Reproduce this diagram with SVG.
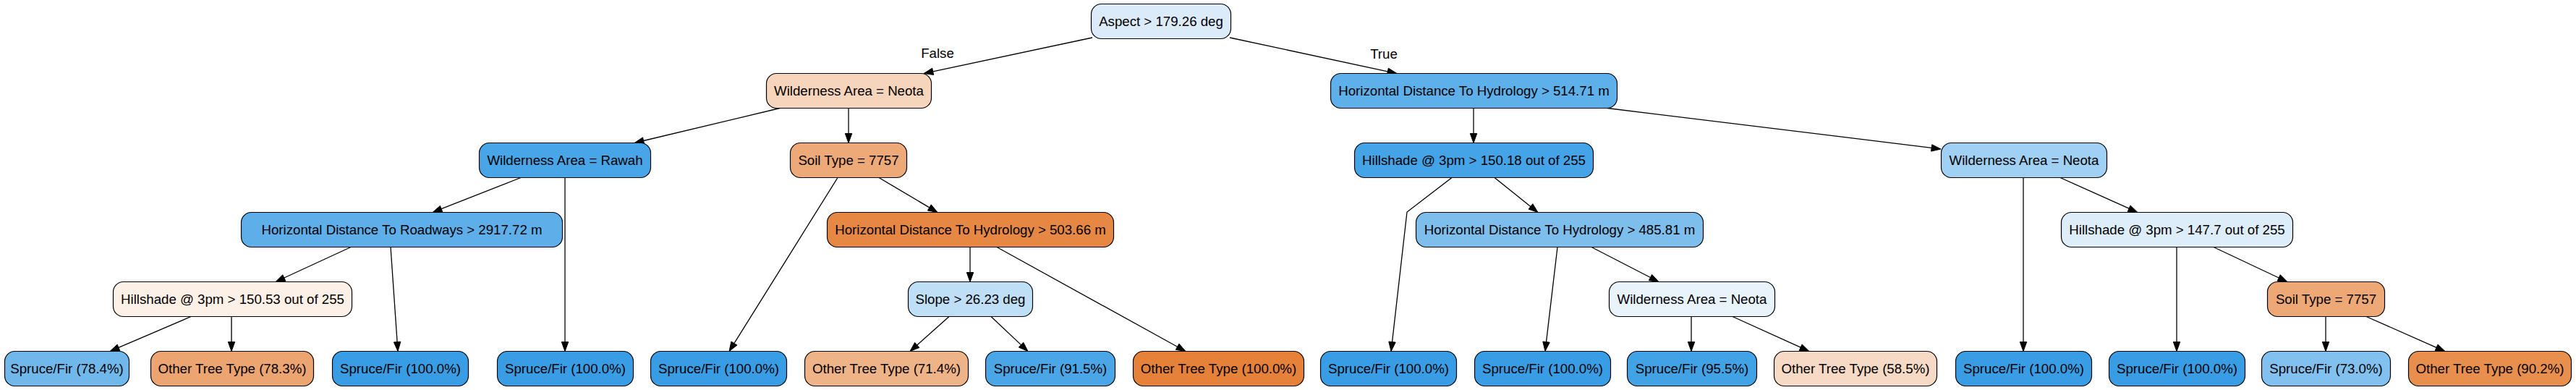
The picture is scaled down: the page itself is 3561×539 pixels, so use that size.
<svg xmlns="http://www.w3.org/2000/svg" width="3561" height="539" viewBox="0 0 3561 539">
<style>
.n rect{stroke:#000;stroke-width:1.2}
text{font-family:"Liberation Sans",Arial,Helvetica,sans-serif;font-size:18.67px;text-anchor:middle;fill:#000}
.e path{stroke:#000;stroke-width:1.3;fill:none}
.e polygon{fill:#000;stroke:#000;stroke-width:1}
</style>
<rect width="3561" height="539" fill="#fff"/>
<g id="connectors" class="e">
<path d="M1510,52 L1289.7,98.8"/><polygon points="1277,101.5 1288.7,94.2 1290.7,103.4"/>
<path d="M1700,52 L1918.3,98.8"/><polygon points="1931,101.5 1917.3,103.4 1919.3,94.2"/>
<path d="M1078,149.5 L889.6,194.5"/><polygon points="877,197.5 888.5,189.9 890.7,199.1"/>
<path d="M1173,149.5 L1173,184.5"/><polygon points="1173,197.5 1168.3,184.5 1177.7,184.5"/>
<path d="M2037,149.5 L2037,184.5"/><polygon points="2037,197.5 2032.3,184.5 2041.7,184.5"/>
<path d="M2222,149.5 L2670.1,204.4"/><polygon points="2683,206 2669.5,209.1 2670.7,199.8"/>
<path d="M720,245.5 L610.1,288.7"/><polygon points="598,293.5 608.4,284.4 611.8,293.1"/>
<path d="M781,245.5 L781,472.5"/><polygon points="781,485.5 776.3,472.5 785.7,472.5"/>
<path d="M1158,245.5 L1014.9,474.5"/><polygon points="1008,485.5 1010.9,472.0 1018.9,477.0"/>
<path d="M1215,245.5 L1284.8,286.9"/><polygon points="1296,293.5 1282.4,290.9 1287.2,282.8"/>
<path d="M2007,245.5 L1945,293 L1924.5,472.6"/><polygon points="1923,485.5 1919.8,472.1 1929.2,473.1"/>
<path d="M2066,245.5 L2115.9,285.4"/><polygon points="2126,293.5 2113.0,289.1 2118.8,281.7"/>
<path d="M2797,245.5 L2797,472.5"/><polygon points="2797,485.5 2792.3,472.5 2801.7,472.5"/>
<path d="M2848,245.5 L2943.1,288.2"/><polygon points="2955,293.5 2941.2,292.5 2945.0,283.9"/>
<path d="M485,341.5 L392.8,384.0"/><polygon points="381,389.5 390.8,379.8 394.8,388.3"/>
<path d="M540,341.5 L549.1,472.5"/><polygon points="550,485.5 544.4,472.9 553.8,472.2"/>
<path d="M1341,341.5 L1341,376.5"/><polygon points="1341,389.5 1336.3,376.5 1345.7,376.5"/>
<path d="M1378,341.5 L1627.6,479.2"/><polygon points="1639,485.5 1625.3,483.3 1629.9,475.1"/>
<path d="M2153,341.5 L2137.5,472.6"/><polygon points="2136,485.5 2132.8,472.0 2142.2,473.2"/>
<path d="M2200,341.5 L2281.5,383.5"/><polygon points="2293,389.5 2279.3,387.7 2283.6,379.4"/>
<path d="M3009,341.5 L3009,472.5"/><polygon points="3009,485.5 3004.3,472.5 3013.7,472.5"/>
<path d="M3060,341.5 L3150.2,384.0"/><polygon points="3162,389.5 3148.2,388.2 3152.2,379.7"/>
<path d="M264,437.5 L163.9,480.4"/><polygon points="152,485.5 162.1,476.1 165.8,484.7"/>
<path d="M320,437.5 L320,472.5"/><polygon points="320,485.5 315.3,472.5 324.7,472.5"/>
<path d="M1312,437.5 L1267.7,476.9"/><polygon points="1258,485.5 1264.6,473.4 1270.8,480.4"/>
<path d="M1370,437.5 L1411.5,476.6"/><polygon points="1421,485.5 1408.3,480.0 1414.7,473.2"/>
<path d="M2338,437.5 L2338,472.5"/><polygon points="2338,485.5 2333.3,472.5 2342.7,472.5"/>
<path d="M2395,437.5 L2489.2,480.1"/><polygon points="2501,485.5 2487.2,484.4 2491.1,475.9"/>
<path d="M3215,437.5 L3215,472.5"/><polygon points="3215,485.5 3210.3,472.5 3219.7,472.5"/>
<path d="M3271,437.5 L3368.1,480.3"/><polygon points="3380,485.5 3366.2,484.6 3370.0,476.0"/>
<text x="1296" y="80">False</text>
<text x="1913" y="81">True</text>
</g>
<g id="n0" class="n"><rect x="1508.5" y="5.5" width="193" height="48" rx="14" fill="#dcebf9"/><text x="1605" y="36">Aspect &gt; 179.26 deg</text></g>
<g id="n1" class="n"><rect x="1059.5" y="101.5" width="228" height="48" rx="14" fill="#f6d5bc"/><text x="1173.5" y="132">Wilderness Area = Neota</text></g>
<g id="n2" class="n"><rect x="1839.5" y="101.5" width="396" height="48" rx="14" fill="#5eb0ea"/><text x="2037.5" y="132">Horizontal Distance To Hydrology &gt; 514.71 m</text></g>
<g id="n3" class="n"><rect x="662.5" y="197.5" width="237" height="48" rx="14" fill="#48a5e7"/><text x="781" y="228">Wilderness Area = Rawah</text></g>
<g id="n4" class="n"><rect x="1092.5" y="197.5" width="161" height="48" rx="14" fill="#eda978"/><text x="1173" y="228">Soil Type = 7757</text></g>
<g id="n5" class="n"><rect x="1872.5" y="197.5" width="330" height="48" rx="14" fill="#45a3e7"/><text x="2037.5" y="228">Hillshade @ 3pm &gt; 150.18 out of 255</text></g>
<g id="n6" class="n"><rect x="2683.5" y="197.5" width="229" height="48" rx="14" fill="#a0d0f3"/><text x="2798" y="228">Wilderness Area = Neota</text></g>
<g id="n7" class="n"><rect x="333.5" y="293.5" width="444" height="48" rx="14" fill="#5eaee9"/><text x="555.5" y="324">Horizontal Distance To Roadways &gt; 2917.72 m</text></g>
<g id="n8" class="n"><rect x="1143.5" y="293.5" width="396" height="48" rx="14" fill="#e68743"/><text x="1341.5" y="324">Horizontal Distance To Hydrology &gt; 503.66 m</text></g>
<g id="n9" class="n"><rect x="1957.5" y="293.5" width="397" height="48" rx="14" fill="#7dbeed"/><text x="2156" y="324">Horizontal Distance To Hydrology &gt; 485.81 m</text></g>
<g id="n10" class="n"><rect x="2849.5" y="293.5" width="320" height="48" rx="14" fill="#deedfa"/><text x="3009.5" y="324">Hillshade @ 3pm &gt; 147.7 out of 255</text></g>
<g id="n11" class="n"><rect x="156.5" y="389.5" width="330" height="48" rx="14" fill="#fcf0e7"/><text x="321.5" y="420">Hillshade @ 3pm &gt; 150.53 out of 255</text></g>
<g id="n12" class="n"><rect x="1255.5" y="389.5" width="172" height="48" rx="14" fill="#bfdff7"/><text x="1341.5" y="420">Slope &gt; 26.23 deg</text></g>
<g id="n13" class="n"><rect x="2224.5" y="389.5" width="229" height="48" rx="14" fill="#e9f3fc"/><text x="2339" y="420">Wilderness Area = Neota</text></g>
<g id="n14" class="n"><rect x="3134.5" y="389.5" width="162" height="48" rx="14" fill="#eda876"/><text x="3215.5" y="420">Soil Type = 7757</text></g>
<g id="l1" class="n"><rect x="6.5" y="485.5" width="172" height="48" rx="14" fill="#70b8ec"/><text x="92.5" y="516">Spruce/Fir (78.4%)</text></g>
<g id="l2" class="n"><rect x="208.5" y="485.5" width="225" height="48" rx="14" fill="#eca470"/><text x="321" y="516">Other Tree Type (78.3%)</text></g>
<g id="l3" class="n"><rect x="459.5" y="485.5" width="188" height="48" rx="14" fill="#399de5"/><text x="553.5" y="516">Spruce/Fir (100.0%)</text></g>
<g id="l4" class="n"><rect x="687.5" y="485.5" width="188" height="48" rx="14" fill="#399de5"/><text x="781.5" y="516">Spruce/Fir (100.0%)</text></g>
<g id="l5" class="n"><rect x="899.5" y="485.5" width="188" height="48" rx="14" fill="#399de5"/><text x="993.5" y="516">Spruce/Fir (100.0%)</text></g>
<g id="l6" class="n"><rect x="1112.5" y="485.5" width="226" height="48" rx="14" fill="#efb388"/><text x="1225.5" y="516">Other Tree Type (71.4%)</text></g>
<g id="l7" class="n"><rect x="1362.5" y="485.5" width="179" height="48" rx="14" fill="#4ba6e7"/><text x="1452" y="516">Spruce/Fir (91.5%)</text></g>
<g id="l8" class="n"><rect x="1566.5" y="485.5" width="236" height="48" rx="14" fill="#e58139"/><text x="1684.5" y="516">Other Tree Type (100.0%)</text></g>
<g id="l9" class="n"><rect x="1825.5" y="485.5" width="188" height="48" rx="14" fill="#399de5"/><text x="1919.5" y="516">Spruce/Fir (100.0%)</text></g>
<g id="l10" class="n"><rect x="2038.5" y="485.5" width="188" height="48" rx="14" fill="#399de5"/><text x="2132.5" y="516">Spruce/Fir (100.0%)</text></g>
<g id="l11" class="n"><rect x="2249.5" y="485.5" width="179" height="48" rx="14" fill="#42a2e6"/><text x="2339" y="516">Spruce/Fir (95.5%)</text></g>
<g id="l12" class="n"><rect x="2452.5" y="485.5" width="225" height="48" rx="14" fill="#f7dac5"/><text x="2565" y="516">Other Tree Type (58.5%)</text></g>
<g id="l13" class="n"><rect x="2703.5" y="485.5" width="188" height="48" rx="14" fill="#399de5"/><text x="2797.5" y="516">Spruce/Fir (100.0%)</text></g>
<g id="l14" class="n"><rect x="2915.5" y="485.5" width="188" height="48" rx="14" fill="#399de5"/><text x="3009.5" y="516">Spruce/Fir (100.0%)</text></g>
<g id="l15" class="n"><rect x="3126.5" y="485.5" width="178" height="48" rx="14" fill="#82c1ef"/><text x="3215.5" y="516">Spruce/Fir (73.0%)</text></g>
<g id="l16" class="n"><rect x="3329.5" y="485.5" width="225" height="48" rx="14" fill="#e88f4e"/><text x="3442" y="516">Other Tree Type (90.2%)</text></g>
</svg>
